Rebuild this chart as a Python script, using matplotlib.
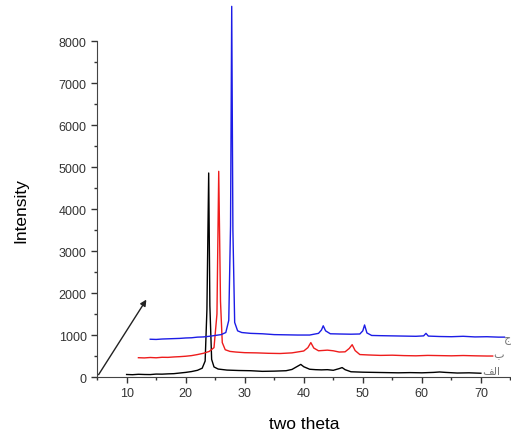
import matplotlib
matplotlib.use("Agg")
import matplotlib.pyplot as plt
from matplotlib.ticker import MultipleLocator

plt.rcParams['font.family'] = ['Liberation Sans', 'DejaVu Sans']

# patterns (two theta, intensity)
black_x = [10, 11, 12, 13, 14, 15, 16, 17, 18, 19, 20, 21, 22, 22.8, 23.3, 23.6, 23.9, 24.1, 24.4, 24.8,
           25.5, 27, 29, 31, 33, 35, 37, 38, 39, 39.5, 40, 41, 42, 43, 44, 45, 46, 46.5, 47, 48,
           50, 52, 54, 56, 58, 60, 62, 63, 64, 66, 68, 70]
black_y = [60, 55, 65, 60, 58, 70, 68, 75, 80, 95, 110, 130, 160, 210, 380, 1600, 4860, 1700, 420, 240,
           190, 165, 155, 150, 135, 140, 150, 180, 260, 300, 245, 185, 175, 170, 175, 160, 200, 225, 175, 125,
           115, 110, 105, 100, 105, 100, 110, 120, 110, 95, 100, 90]

red_x = [12, 13, 14, 15, 16, 17, 18, 19, 20, 21, 22, 23, 24, 24.8, 25.3, 25.6, 25.9, 26.2, 26.7, 27.5,
         28.5, 30, 32, 34, 36, 38, 40, 40.7, 41.2, 41.7, 42.5, 44, 45, 46, 47, 47.7, 48.2, 48.7, 49.5, 51,
         53, 55, 57, 59, 61, 63, 65, 67, 69, 71, 72]
red_y = [460, 455, 465, 458, 470, 468, 478, 485, 495, 510, 535, 565, 610, 700, 1500, 4900, 1800, 820, 650, 610,
         595, 580, 575, 565, 560, 575, 620, 700, 820, 690, 625, 640, 625, 595, 600, 680, 770, 630, 535, 525,
         515, 520, 510, 505, 515, 510, 505, 512, 505, 500, 500]

blue_x = [14, 15, 16, 17, 18, 19, 20, 21, 22, 23, 24, 25, 26, 26.8, 27.3, 27.6, 27.8, 28.0, 28.3, 28.8,
          29.5, 31, 33, 35, 37, 39, 41, 42.5, 43.0, 43.3, 43.7, 44.5, 46, 48, 49.5, 50.0, 50.3, 50.7, 51.5, 53,
          55, 57, 59, 60.3, 60.7, 61.1, 63, 65, 67, 69, 71, 73, 74]
blue_y = [900, 895, 905, 910, 915, 920, 930, 935, 950, 955, 970, 990, 1010, 1060, 1350, 3600, 8830, 3500, 1300, 1100,
          1060, 1040, 1030, 1010, 1005, 1000, 1000, 1040, 1120, 1220, 1100, 1030, 1025, 1020, 1025, 1100, 1240, 1050, 990, 985,
          980, 975, 970, 980, 1040, 975, 965, 960, 970, 955, 960, 950, 950]

x_ticks = [10, 20, 30, 40, 50, 60, 70]
y_ticks = [0, 1000, 2000, 3000, 4000, 5000, 6000, 7000, 8000]
# Persian sample labels (visual order, presentation forms)
labels = ["\uFED2\uFEDF\uFE8D", "\uFE8F", "\uFE9D"]
label_pos = [(71.7, 140), (73.0, 540), (74.4, 900)]

fig = plt.figure(figsize=(5.11, 4.35), dpi=100)
ax = fig.add_axes([0.19, 0.131, 0.81, 0.772])

ax.plot(black_x, black_y, color='black', lw=1.0, clip_on=False)
ax.plot(red_x, red_y, color='#ee1c1c', lw=1.0, clip_on=False)
ax.plot(blue_x, blue_y, color='#1c1ce6', lw=1.0, clip_on=False)

ax.annotate('', xy=(13.6, 1900), xytext=(5, 0),
            arrowprops=dict(arrowstyle='-|>', color='#222222', lw=1.0, mutation_scale=9))

for txt, (lx, ly) in zip(labels, label_pos):
    ax.text(lx, ly, txt, color='#777777', fontsize=8, ha='center', va='center',
            family=['DejaVu Sans'], clip_on=False)

ax.set_xlim(5, 75.1)
ax.set_ylim(0, 8000)
ax.set_xticks(x_ticks)
ax.set_yticks(y_ticks)
ax.xaxis.set_minor_locator(MultipleLocator(5))
ax.yaxis.set_minor_locator(MultipleLocator(500))
ax.tick_params(which='major', direction='out', length=4, width=1, labelsize=9, colors='#333333')
ax.tick_params(which='minor', direction='out', length=2.5, width=1, colors='#333333')

for s in ['top', 'right']:
    ax.spines[s].set_visible(False)
for s in ['left', 'bottom']:
    ax.spines[s].set_color('#444444')

ax.set_xlabel('two theta', fontsize=12.5, labelpad=12)
ax.set_ylabel('Intensity', fontsize=12.5, labelpad=22)

fig.savefig('out.png', dpi=100)
